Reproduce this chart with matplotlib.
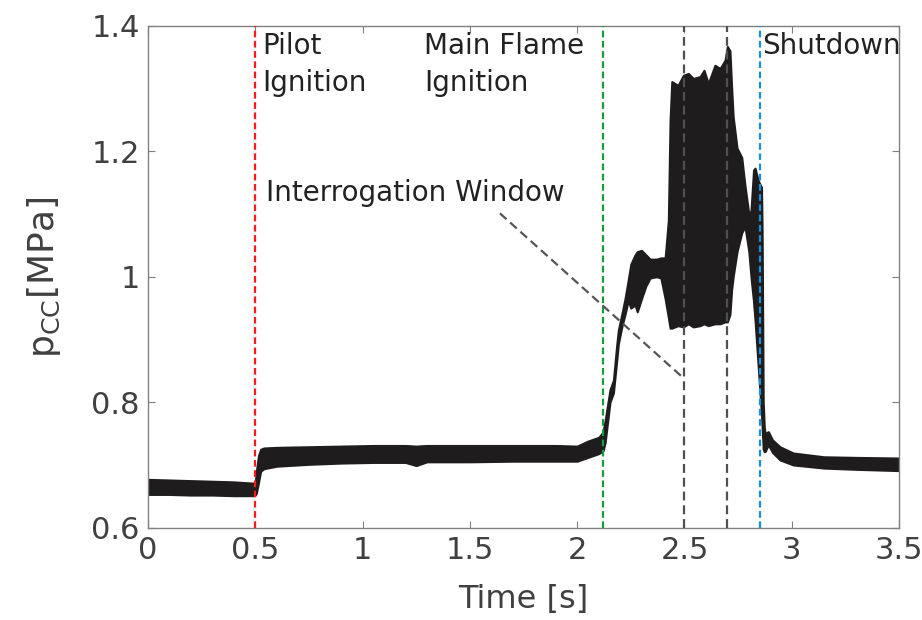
import numpy as np
import matplotlib.pyplot as plt

plt.rcParams['font.family'] = ['DejaVu Sans']

# pressure band (time [s], lower and upper edge [MPa])
t_env = [0.0, 0.1, 0.2, 0.3, 0.4, 0.49, 0.50, 0.505, 0.515, 0.525, 0.54,
         0.6, 0.75, 0.9, 1.05, 1.2, 1.25, 1.3, 1.5, 1.7, 1.9, 2.0, 2.05, 2.1,
         2.12, 2.13, 2.153, 2.169, 2.184, 2.192, 2.208, 2.223, 2.238, 2.25,
         2.27, 2.28, 2.30, 2.32, 2.34, 2.37, 2.39, 2.41, 2.425, 2.433, 2.441,
         2.47, 2.495, 2.518, 2.541, 2.573, 2.591, 2.611, 2.642, 2.666, 2.689,
         2.70, 2.712, 2.72, 2.727, 2.745, 2.767, 2.782, 2.80, 2.81, 2.822,
         2.829, 2.843, 2.855, 2.859, 2.862, 2.867, 2.872, 2.877, 2.885, 2.891,
         2.91, 2.945, 3.007, 3.15, 3.3, 3.5]
p_lo = [0.653, 0.653, 0.652, 0.652, 0.651, 0.651, 0.652, 0.655, 0.672, 0.69, 0.694,
        0.698, 0.701, 0.703, 0.704, 0.704, 0.699, 0.705, 0.705, 0.706, 0.706, 0.706, 0.712, 0.718,
        0.722, 0.735, 0.80, 0.815, 0.865, 0.893, 0.92, 0.94, 0.962, 0.95,
        0.955, 0.944, 0.965, 0.985, 0.998, 1.0, 0.998, 0.965, 0.935, 0.918, 0.918,
        0.922, 0.92, 0.925, 0.92, 0.922, 0.925, 0.922, 0.925, 0.925, 0.928,
        0.928, 0.94, 0.98, 1.0, 1.04, 1.07, 1.08, 1.04, 1.0, 0.96,
        0.93, 0.86, 0.80, 0.78, 0.76, 0.725, 0.721, 0.722, 0.728, 0.732,
        0.72, 0.708, 0.70, 0.695, 0.693, 0.691]
p_hi = [0.677, 0.676, 0.675, 0.674, 0.673, 0.671, 0.672, 0.69, 0.715, 0.725, 0.727,
        0.728, 0.729, 0.730, 0.731, 0.731, 0.730, 0.731, 0.731, 0.731, 0.731, 0.730, 0.738, 0.744,
        0.752, 0.77, 0.82, 0.835, 0.89, 0.915, 0.94, 0.965, 0.995, 1.02,
        1.035, 1.04, 1.042, 1.035, 1.028, 1.028, 1.03, 1.03, 1.09, 1.25, 1.311,
        1.305, 1.321, 1.324, 1.316, 1.319, 1.329, 1.308, 1.337, 1.332, 1.345,
        1.367, 1.36, 1.30, 1.255, 1.205, 1.19, 1.145, 1.10, 1.105, 1.17,
        1.173, 1.154, 1.145, 1.143, 1.07, 0.80, 0.76, 0.748, 0.752, 0.753,
        0.74, 0.729, 0.719, 0.713, 0.712, 0.711]

event_t = [0.5, 2.12, 2.5, 2.7, 2.85]
event_c = ['#ff1a1a', '#1a9a3c', '#505050', '#505050', '#1a8fd8']
event_dash = [(3, 1.6), (3, 1.6), (4, 2.2), (4, 2.2), (3, 1.6)]

fig = plt.figure(figsize=(9.22, 6.2), dpi=100)
ax = fig.add_axes([0.1605, 0.1489, 0.8146, 0.8096])

ax.fill_between(t_env, p_lo, p_hi, color='#1e1c1c', lw=1.5, edgecolor='#1e1c1c', zorder=2)

for xv, c, d in zip(event_t, event_c, event_dash):
    ax.axvline(xv, color=c, lw=1.6, dashes=d, zorder=3)

txt = dict(fontsize=20, color='#222222', va='top', ha='left', linespacing=1.4)
ax.text(0.531, 1.39, 'Pilot\nIgnition', **txt)
ax.text(1.286, 1.39, 'Main Flame\nIgnition', **txt)
ax.text(2.862, 1.39, 'Shutdown', **txt)
ax.text(0.55, 1.133, 'Interrogation Window', fontsize=20, color='#222222',
        va='center', ha='left')
ax.plot([1.64, 2.5], [1.101, 0.837], color='#555555', lw=1.6, dashes=(4, 2.2), zorder=3)

ax.set_xlim(0, 3.5)
ax.set_ylim(0.6, 1.4)
ax.set_xticks([0, 0.5, 1, 1.5, 2, 2.5, 3, 3.5])
ax.set_xticklabels(['0', '0.5', '1', '1.5', '2', '2.5', '3', '3.5'])
ax.set_yticks([0.6, 0.8, 1.0, 1.2, 1.4])
ax.set_yticklabels(['0.6', '0.8', '1', '1.2', '1.4'])
ax.tick_params(direction='in', length=5, width=0.8, color='#808080',
               labelcolor='#404040', labelsize=22, top=True, right=True, pad=6)
for s in ax.spines.values():
    s.set_color('#808080')
    s.set_linewidth(1.0)

ax.set_xlabel('Time [s]', fontsize=23, color='#404040', labelpad=14)
ax.set_ylabel('p$_\\mathregular{CC}$[MPa]', fontsize=26, color='#404040', labelpad=20)

fig.savefig('out.png', dpi=100)
